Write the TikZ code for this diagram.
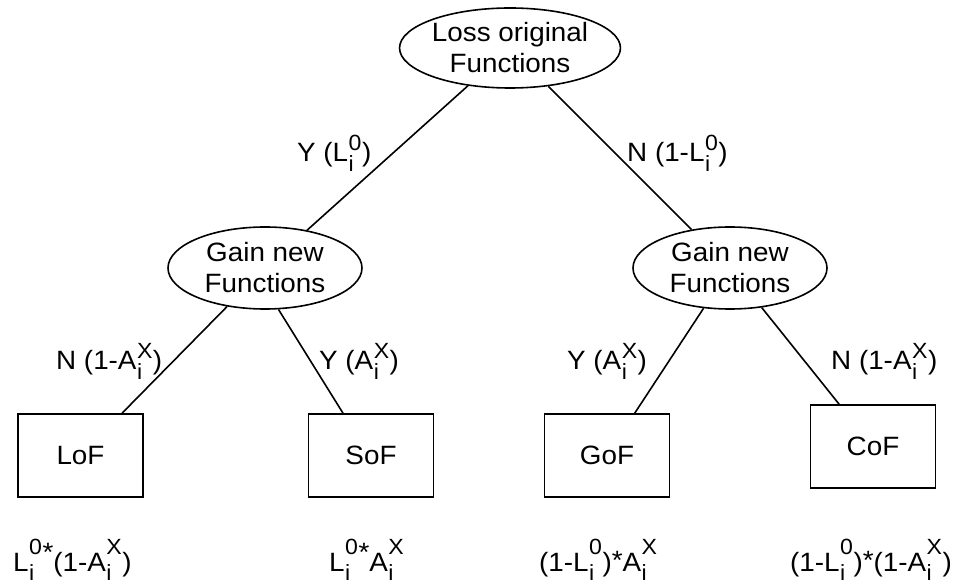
\documentclass[tikz,border=0pt]{standalone}
\usepackage{fontspec}
\setmainfont{Liberation Sans}[FakeStretch=1.05]
\usetikzlibrary{shapes.geometric,calc}

% script size used for indices and exponents
\newcommand\scr{\fontsize{22}{22}\selectfont}
% stacked subscript / superscript in the branch labels
\newcommand\subsup[2]{\kern0.5pt\rlap{\raisebox{-9.5pt}{\scr #1}}\raisebox{11pt}{\scr #2}\kern0.5pt}
% stacked subscript / superscript in the outcome formulas (higher exponent)
\newcommand\fsubsup[2]{\kern0.5pt\rlap{\raisebox{-9.5pt}{\scr #1}}\raisebox{17pt}{\scr #2}\kern0.5pt}
% raised product sign that follows an exponent
\newcommand\hightimes{\raisebox{10pt}{*}}

\begin{document}
\begin{tikzpicture}[x=1pt,y=-1pt,
  every node/.style={font=\fontsize{26.5}{31}\selectfont},
  decision/.style={draw,ellipse,line width=1.6pt,inner sep=0pt,align=center},
  outcome/.style={draw,rectangle,line width=1.6pt,minimum width=125pt,minimum height=83pt,inner sep=0pt},
  branch/.style={anchor=base west,inner sep=0pt},
  result/.style={anchor=base west,inner sep=0pt},
  edge/.style={line width=1.6pt}]
\useasboundingbox (0,0) rectangle (967,585);

% decision nodes
\node[decision,minimum width=219pt,minimum height=80pt] (top) at (510,48) {Loss original\\Functions};
\node[decision,minimum width=194pt,minimum height=82pt] (gl) at (265,268) {Gain new\\Functions};
\node[decision,minimum width=194pt,minimum height=82pt] (gr) at (730,268) {Gain new\\Functions};

% outcome boxes
\node[outcome] (lof) at (80.5,455.5) {LoF};
\node[outcome] (sof) at (371,455.5) {SoF};
\node[outcome] (gof) at (607,455.5) {GoF};
\node[outcome] (cof) at (873,446.5) {CoF};

% branches
\draw[edge] (top) -- (gl);
\draw[edge] (top) -- (gr);
\draw[edge] (gl) -- (lof);
\draw[edge] (gl.-72) -- ($(sof.north)+(-28,0)$);
\draw[edge] (gr) -- (gof);
\draw[edge] (gr) -- (cof);

% branch labels
\node[branch] (l1) at (297,162) {Y (L\subsup{i}{0})};
\node[branch] (l2) at (627,162) {N (1-L\subsup{i}{0})};
\node[branch] (l3) at (56,370) {N (1-A\subsup{i}{X})};
\node[branch] (l4) at (319,370) {Y (A\subsup{i}{X})};
\node[branch] (l5) at (567,370) {Y (A\subsup{i}{X})};
\node[branch] (l6) at (831,370) {N (1-A\subsup{i}{X})};

% probabilities of the outcomes
\node[result] (p1) at (13,571) {L\fsubsup{i}{0}\hightimes(1-A\fsubsup{i}{X})};
\node[result] (p2) at (329,571) {L\fsubsup{i}{0}\hightimes A\fsubsup{i}{X}};
\node[result] (p3) at (539,571) {(1-L\fsubsup{i}{0})\raisebox{2pt}{*}A\fsubsup{i}{X}};
\node[result] (p4) at (790,571) {(1-L\fsubsup{i}{0})\raisebox{2pt}{*}(1-A\fsubsup{i}{X})};
\end{tikzpicture}
\end{document}
